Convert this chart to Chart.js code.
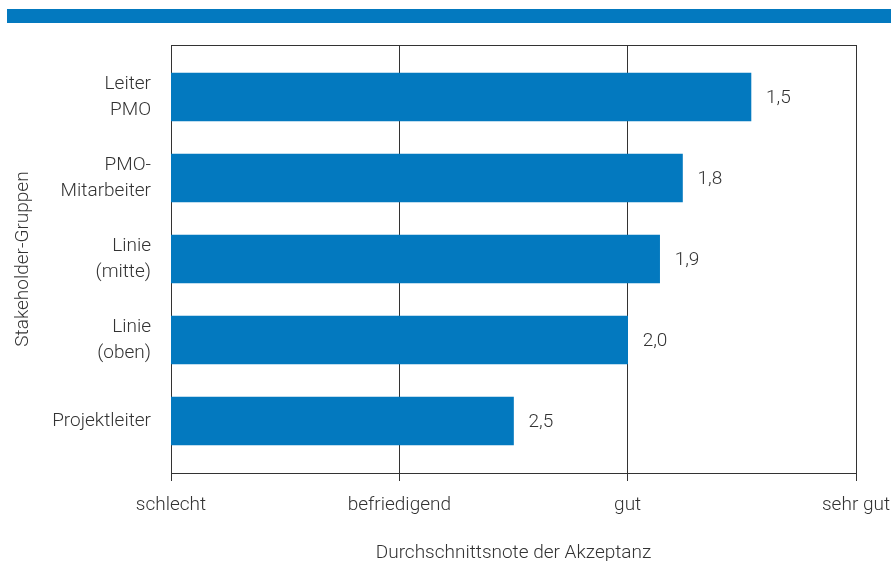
<!DOCTYPE html>
<html>
<head>
<meta charset="utf-8">
<script src="https://cdn.jsdelivr.net/npm/chart.js@4/dist/chart.umd.min.js"></script>
<style>
  html, body { margin: 0; padding: 0; background: #ffffff; }
  #wrap { position: relative; width: 891px; height: 561px; overflow: hidden; }
  #band { position: absolute; left: 7px; right: 0; top: 9px; height: 14px; background: #0379bf; }
  #c { position: absolute; left: 0; top: 0; }
</style>
</head>
<body>
<div id="wrap">
  <div id="band"></div>
  <canvas id="c" width="891" height="561"></canvas>
</div>
<script>
// ---- data ----
const categories = [
  ['Leiter', 'PMO'],
  ['PMO-', 'Mitarbeiter'],
  ['Linie', '(mitte)'],
  ['Linie', '(oben)'],
  ['Projektleiter']
];
const grades = [1.46, 1.76, 1.86, 2.0, 2.5];          // average grade (1 = sehr gut ... 4 = schlecht)
const gradeLabels = ['1,5', '1,8', '1,9', '2,0', '2,5'];
const gradeTickValues = [1, 2, 3, 4];
const gradeTickLabels = ['sehr gut', 'gut', 'befriedigend', 'schlecht'];
const worstGrade = 4;
const xTitle = 'Durchschnittsnote der Akzeptanz';
const yTitle = 'Stakeholder-Gruppen';

// ---- styling ----
const FONT = "Roboto, 'Liberation Sans', sans-serif";
const TEXT = '#333333';
const LINE = '#333333';
const BLUE = '#0379bf';

Chart.defaults.font.family = FONT;
Chart.defaults.font.weight = 300;
Chart.defaults.color = TEXT;

const frameTop = {
  id: 'frameTop',
  afterDraw(chart) {
    const { ctx, chartArea } = chart;
    ctx.save();
    ctx.strokeStyle = LINE;
    ctx.lineWidth = 1;
    const y = Math.round(chartArea.top) + 0.5;
    ctx.beginPath();
    ctx.moveTo(Math.round(chartArea.left), y);
    ctx.lineTo(Math.round(chartArea.right) + 1, y);
    ctx.stroke();
    ctx.restore();
  }
};

const valueLabels = {
  id: 'valueLabels',
  afterDatasetsDraw(chart) {
    const { ctx } = chart;
    const meta = chart.getDatasetMeta(0);
    ctx.save();
    ctx.font = '300 19px ' + FONT;
    ctx.fillStyle = TEXT;
    ctx.textAlign = 'left';
    ctx.textBaseline = 'middle';
    meta.data.forEach((bar, i) => {
      const end = Math.max(bar.x, bar.base);
      ctx.fillText(gradeLabels[i], end + 15, bar.y + 1);
    });
    ctx.restore();
  }
};

new Chart(document.getElementById('c'), {
  type: 'bar',
  data: {
    datasets: [{
      data: grades.map((g, i) => ({ x: [worstGrade, g], y: i })),
      backgroundColor: BLUE,
      borderWidth: 0,
      barThickness: 48
    }]
  },
  options: {
    indexAxis: 'y',
    responsive: false,
    animation: false,
    devicePixelRatio: 1,
    layout: { padding: { left: 0, top: 45, right: 35, bottom: 0 } },
    plugins: { legend: { display: false }, tooltip: { enabled: false } },
    scales: {
      x: {
        type: 'linear',
        min: 1, max: 4, reverse: true, offset: false,
        afterBuildTicks(scale) { scale.ticks = gradeTickValues.map(v => ({ value: v })); },
        afterFit(scale) { scale.height = 88; },
        ticks: {
          font: { size: 19, lineHeight: 1.2 },
          padding: 13,
          maxRotation: 0,
          callback: (v) => gradeTickLabels[gradeTickValues.indexOf(v)]
        },
        grid: { color: LINE, lineWidth: 1, drawTicks: true, tickLength: 8, tickColor: LINE },
        border: { display: true, color: LINE, width: 1 },
        title: { display: true, text: xTitle, font: { size: 19, lineHeight: 0.7 }, padding: { top: 0, bottom: 1 } }
      },
      y: {
        type: 'linear',
        min: -0.642, max: 4.642, reverse: true, offset: false,
        afterBuildTicks(scale) { scale.ticks = categories.map((c, i) => ({ value: i })); },
        afterFit(scale) { scale.width = 171; },
        ticks: {
          font: { size: 19, lineHeight: 1.37 },
          padding: 20,
          callback: (v) => categories[v]
        },
        grid: { display: false, drawTicks: false },
        border: { display: true, color: LINE, width: 1 },
        title: { display: true, text: yTitle, font: { size: 19, lineHeight: 1.2 }, padding: { top: 12, bottom: 0 } }
      }
    }
  },
  plugins: [frameTop, valueLabels]
});
</script>
</body>
</html>
